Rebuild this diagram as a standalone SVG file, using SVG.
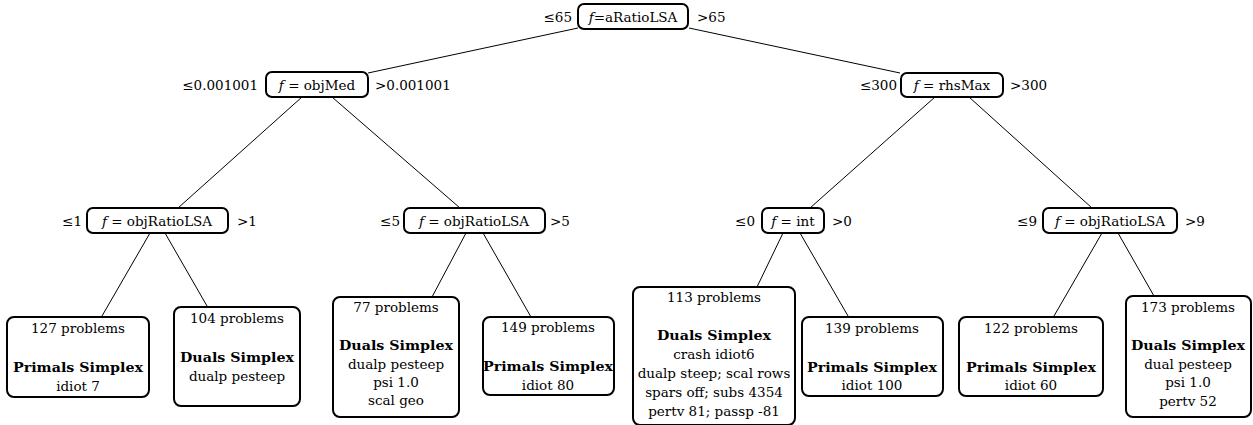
<svg xmlns="http://www.w3.org/2000/svg" width="1253" height="425" viewBox="0 0 1253 425" font-family="'DejaVu Serif', 'Liberation Serif', serif">
<style>
text{font-family:'DejaVu Serif','Liberation Serif',serif;font-size:13.5px;fill:#000}
.c{text-anchor:middle}
.e{text-anchor:end}
.b{font-weight:bold}
.box{fill:#fff;stroke:#000;stroke-width:2}
.edge{stroke:#000;stroke-width:1;fill:none}
</style>
<rect width="1253" height="425" fill="#fff"/>
<g id="connectors">
<line class="edge" x1="578" y1="28" x2="368" y2="73"/>
<line class="edge" x1="689" y1="28" x2="900" y2="73"/>
<line class="edge" x1="302" y1="97" x2="178" y2="208"/>
<line class="edge" x1="332" y1="97" x2="460" y2="208"/>
<line class="edge" x1="935" y1="97" x2="810" y2="208"/>
<line class="edge" x1="969" y1="97" x2="1092" y2="208"/>
<line class="edge" x1="150" y1="233" x2="102" y2="316"/>
<line class="edge" x1="165" y1="233" x2="207" y2="306"/>
<line class="edge" x1="466" y1="233" x2="432" y2="297"/>
<line class="edge" x1="483" y1="233" x2="531" y2="317"/>
<line class="edge" x1="783" y1="233" x2="757" y2="287"/>
<line class="edge" x1="800" y1="233" x2="848" y2="316"/>
<line class="edge" x1="1102" y1="233" x2="1054" y2="316"/>
<line class="edge" x1="1118" y1="233" x2="1154" y2="296"/>
</g>
<g id="root">
<rect class="box" x="578" y="4" width="110" height="25" rx="6"/>
<text class="c" x="633" y="21.5"><tspan font-style="italic">f</tspan>=aRatioLSA</text>
<text class="e" x="572" y="21.5">≤65</text>
<text x="697" y="21.5">&gt;65</text>
</g>
<g id="objMed">
<rect class="box" x="266" y="72" width="102" height="25" rx="6"/>
<text class="c" x="317" y="89.5"><tspan font-style="italic">f</tspan> = objMed</text>
<text class="e" x="258" y="89.5">≤0.001001</text>
<text x="375" y="89.5">&gt;0.001001</text>
</g>
<g id="rhsMax">
<rect class="box" x="901" y="73" width="102" height="24" rx="6"/>
<text class="c" x="952" y="89.5"><tspan font-style="italic">f</tspan> = rhsMax</text>
<text class="e" x="897" y="89.5">≤300</text>
<text x="1010" y="89.5">&gt;300</text>
</g>
<g id="objRatioLSA1">
<rect class="box" x="87" y="208" width="141" height="25" rx="6"/>
<text class="c" x="157" y="225.5"><tspan font-style="italic">f</tspan> = objRatioLSA</text>
<text class="e" x="82" y="225.5">≤1</text>
<text x="237" y="225.5">&gt;1</text>
</g>
<g id="objRatioLSA2">
<rect class="box" x="404" y="208" width="141" height="25" rx="6"/>
<text class="c" x="474" y="225.5"><tspan font-style="italic">f</tspan> = objRatioLSA</text>
<text class="e" x="400" y="225.5">≤5</text>
<text x="550" y="225.5">&gt;5</text>
</g>
<g id="int">
<rect class="box" x="762" y="208" width="62" height="25" rx="6"/>
<text class="c" x="793" y="225.5"><tspan font-style="italic">f</tspan> = int</text>
<text class="e" x="755" y="225.5">≤0</text>
<text x="832" y="225.5">&gt;0</text>
</g>
<g id="objRatioLSA3">
<rect class="box" x="1043" y="208" width="134" height="25" rx="6"/>
<text class="c" x="1110" y="225.5"><tspan font-style="italic">f</tspan> = objRatioLSA</text>
<text class="e" x="1037" y="225.5">≤9</text>
<text x="1185" y="225.5">&gt;9</text>
</g>
<g id="leaf127">
<rect class="box" x="7" y="317" width="142" height="80" rx="7"/>
<text class="c" x="78" y="333">127 problems</text>
<text class="c b" x="78" y="372" textLength="130" lengthAdjust="spacingAndGlyphs">Primals Simplex</text>
<text class="c" x="78" y="391">idiot 7</text>
</g>
<g id="leaf104">
<rect class="box" x="174" y="307" width="126" height="99" rx="7"/>
<text class="c" x="237" y="323">104 problems</text>
<text class="c b" x="237" y="362" textLength="114" lengthAdjust="spacingAndGlyphs">Duals Simplex</text>
<text class="c" x="237" y="381">dualp pesteep</text>
</g>
<g id="leaf77">
<rect class="box" x="333" y="297" width="126" height="120" rx="7"/>
<text class="c" x="396" y="312">77 problems</text>
<text class="c b" x="396" y="350" textLength="114" lengthAdjust="spacingAndGlyphs">Duals Simplex</text>
<text class="c" x="396" y="369">dualp pesteep</text>
<text class="c" x="396" y="387">psi 1.0</text>
<text class="c" x="396" y="405">scal geo</text>
</g>
<g id="leaf149">
<rect class="box" x="483" y="317" width="131" height="78" rx="7"/>
<text class="c" x="548" y="332">149 problems</text>
<text class="c b" x="548" y="371" textLength="130" lengthAdjust="spacingAndGlyphs">Primals Simplex</text>
<text class="c" x="548" y="390">idiot 80</text>
</g>
<g id="leaf113">
<rect class="box" x="633" y="287" width="162" height="138" rx="7"/>
<text class="c" x="714" y="302">113 problems</text>
<text class="c b" x="714" y="340" textLength="114" lengthAdjust="spacingAndGlyphs">Duals Simplex</text>
<text class="c" x="714" y="359">crash idiot6</text>
<text class="c" x="714" y="378">dualp steep; scal rows</text>
<text class="c" x="714" y="397">spars off; subs 4354</text>
<text class="c" x="714" y="416">pertv 81; passp -81</text>
</g>
<g id="leaf139">
<rect class="box" x="802" y="317" width="141" height="79" rx="7"/>
<text class="c" x="872" y="333">139 problems</text>
<text class="c b" x="872" y="372" textLength="130" lengthAdjust="spacingAndGlyphs">Primals Simplex</text>
<text class="c" x="872" y="390">idiot 100</text>
</g>
<g id="leaf122">
<rect class="box" x="959" y="317" width="144" height="79" rx="7"/>
<text class="c" x="1031" y="333">122 problems</text>
<text class="c b" x="1031" y="372" textLength="130" lengthAdjust="spacingAndGlyphs">Primals Simplex</text>
<text class="c" x="1031" y="390">idiot 60</text>
</g>
<g id="leaf173">
<rect class="box" x="1126" y="296" width="125" height="121" rx="7"/>
<text class="c" x="1188" y="312">173 problems</text>
<text class="c b" x="1188" y="350" textLength="114" lengthAdjust="spacingAndGlyphs">Duals Simplex</text>
<text class="c" x="1188" y="369">dual pesteep</text>
<text class="c" x="1188" y="387">psi 1.0</text>
<text class="c" x="1188" y="406">pertv 52</text>
</g>
</svg>
